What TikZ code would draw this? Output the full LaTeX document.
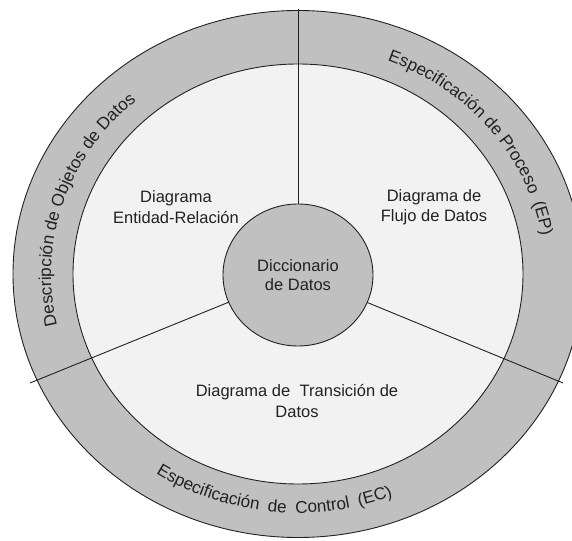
\documentclass[tikz,border=0pt]{standalone}
\usepackage{fontspec}
\setmainfont{Liberation Sans}
\usetikzlibrary{decorations.text,shapes.geometric}
\definecolor{band}{RGB}{192,192,192}
\definecolor{field}{RGB}{242,242,242}
\definecolor{ink}{RGB}{34,34,34}
\newcommand{\arcfont}{\fontsize{17.2}{20}\selectfont\color{ink}}

\begin{document}
\begin{tikzpicture}[x=1pt,y=1pt,
  rim/.style={draw=ink, line width=0.9pt},
  divider/.style={draw=ink, line width=0.9pt},
  label/.style={text=ink, font=\fontsize{16.5}{20.5}\selectfont, align=center},
  hub/.style={ellipse, draw=ink, line width=0.9pt, fill=band, inner sep=0pt,
    minimum width=150pt, minimum height=142pt},
  ]
\useasboundingbox (-298,-266) rectangle (274,274);
\clip (-298,-266) rectangle (274,274);

% outer ring and inner field
\path[rim, fill=band] (0,0) ellipse [x radius=285, y radius=263.5];
\path[rim, fill=field] (0,0) ellipse [x radius=225, y radius=210];

% dividers from the hub out through the ring
\coordinate (c) at (0,0);
\coordinate (top) at (0,265);
\coordinate (left) at (-268,-109);
\coordinate (right) at (265,-109);
\draw[divider] (c) -- (top);
\draw[divider] (c) -- (left);
\draw[divider] (c) -- (right);

% central data dictionary
\node[hub, label] (dd) at (0,-1) {Diccionario\\[-1pt]de Datos};

% the three diagrams
\node[label] (er)  at (-122,67)  {Diagrama\\Entidad-Relación};
\node[label] (dfd) at (136,67)   {Diagrama de\\Flujo de Datos};
\node[label] (dtd) at (-1,-127)  {Diagrama de\hspace{0.3em} Transición de\\Datos};

% lettering on the ring
\path[decorate, decoration={text along path, text align=center,
  text={|\arcfont|Descripción de Objetos de Datos}}]
  (c) ++(197:247 and 229) arc [start angle=197, end angle=127, x radius=247, y radius=229];
\path[decorate, decoration={text along path, text align=center,
  text={|\arcfont|Especificación de Proceso {\kern4pt}(EP)}}]
  (c) ++(72:247 and 229) arc [start angle=72, end angle=6, x radius=247, y radius=229];
\path[decorate, decoration={text along path, text align=center,
  text={|\arcfont|Especificación {\kern4pt}de {\kern4pt}Control {\kern4pt}(EC)}}]
  (c) ++(229:257 and 239) arc [start angle=229, end angle=299, x radius=257, y radius=239];
\end{tikzpicture}
\end{document}
